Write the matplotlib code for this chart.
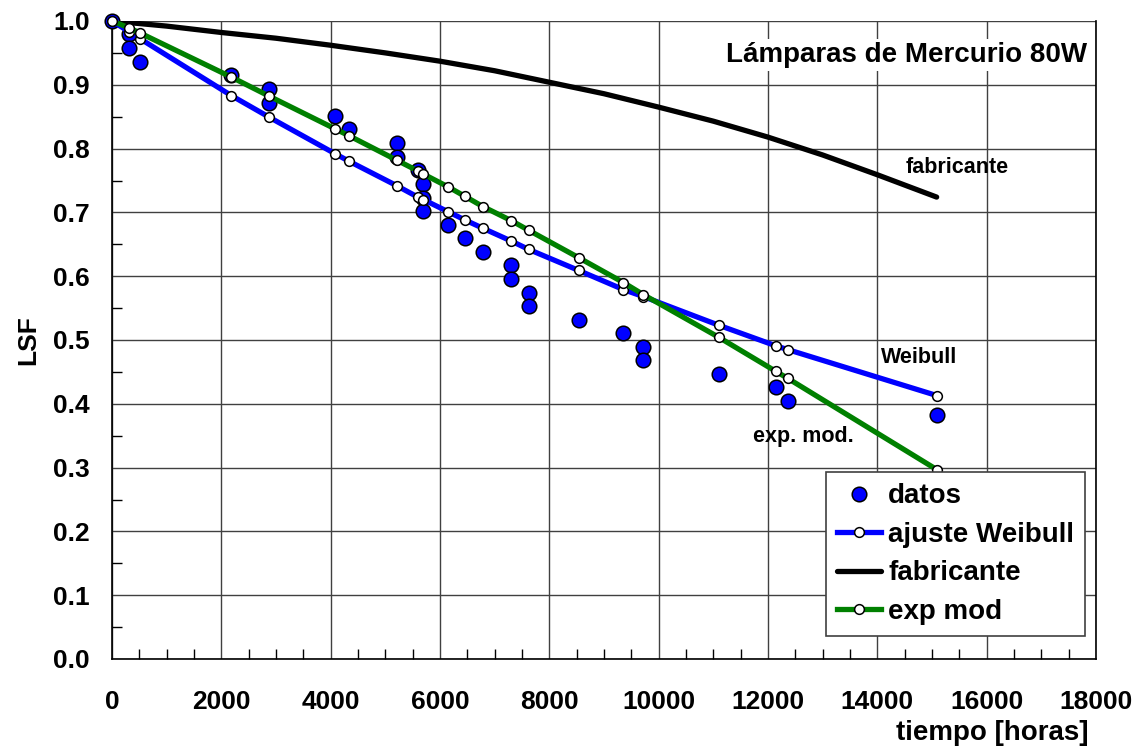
import matplotlib
matplotlib.use("Agg")
import matplotlib.pyplot as plt
from matplotlib.ticker import MultipleLocator

plt.rcParams['font.family'] = ['Liberation Sans', 'DejaVu Sans']
plt.rcParams['font.weight'] = 'bold'

# measured survival fraction of the lamps
t_datos = [0, 317, 317, 518, 2185, 2880, 2880, 4080, 4340, 5206, 5206, 5594,
           5698, 5698, 5698, 6149, 6460, 6788, 7306, 7306, 7622, 7622, 8538,
           9356, 9722, 9722, 11105, 12140, 12360, 15085]
lsf_datos = [1.0, 0.979, 0.957, 0.936, 0.915, 0.894, 0.872, 0.851, 0.830,
             0.809, 0.787, 0.766, 0.745, 0.723, 0.702, 0.681, 0.660, 0.638,
             0.617, 0.596, 0.574, 0.553, 0.532, 0.511, 0.489, 0.468, 0.447,
             0.426, 0.404, 0.383]

# fitted curves evaluated at the failure times
t_ajuste = [0, 317, 518, 2185, 2880, 4080, 4340, 5206, 5594, 5698, 6149,
            6460, 6788, 7306, 7622, 8538, 9356, 9722, 11105, 12140, 12360, 15085]
lsf_weibull = [1.0, 0.983, 0.972, 0.883, 0.849, 0.792, 0.780, 0.742, 0.724,
               0.720, 0.701, 0.688, 0.675, 0.655, 0.642, 0.609, 0.579, 0.568,
               0.523, 0.491, 0.485, 0.413]
lsf_expmod = [1.0, 0.989, 0.981, 0.912, 0.882, 0.831, 0.820, 0.782, 0.765,
              0.760, 0.740, 0.725, 0.709, 0.687, 0.672, 0.629, 0.590, 0.571,
              0.504, 0.451, 0.440, 0.297]

# manufacturer curve
t_fab = [0, 1000, 2000, 3000, 4000, 5000, 6000, 7000, 8000, 9000, 10000,
         11000, 12000, 13000, 14000, 15085]
lsf_fab = [1.0, 0.992, 0.982, 0.973, 0.962, 0.950, 0.937, 0.922, 0.904,
           0.886, 0.865, 0.843, 0.818, 0.790, 0.759, 0.724]

fig = plt.figure(figsize=(11.43, 7.54), dpi=100)
ax = fig.add_axes([112 / 1143, 95 / 754, 984 / 1143, 638 / 754])

ax.plot(t_datos, lsf_datos, 'o', color='#0000ff', markeredgecolor='black',
        markersize=10.5, markeredgewidth=1.1, label='datos', zorder=3,
        clip_on=False)
ax.plot(t_ajuste, lsf_weibull, '-o', color='#0000ff', lw=3.8,
        markerfacecolor='white', markeredgecolor='black', markersize=7,
        markeredgewidth=1.1, label='ajuste Weibull', zorder=4)
ax.plot(t_fab, lsf_fab, '-', color='black', lw=3.8, solid_capstyle='round',
        label='fabricante', zorder=4)
ax.plot(t_ajuste, lsf_expmod, '-o', color='#008000', lw=3.8,
        markerfacecolor='white', markeredgecolor='black', markersize=7,
        markeredgewidth=1.1, label='exp mod', zorder=4, clip_on=False)

ax.set_xlim(0, 18000)
ax.set_ylim(0, 1.0)
ax.xaxis.set_major_locator(MultipleLocator(2000))
ax.xaxis.set_minor_locator(MultipleLocator(500))
ax.yaxis.set_major_locator(MultipleLocator(0.1))
ax.yaxis.set_minor_locator(MultipleLocator(0.05))
ax.yaxis.set_major_formatter(matplotlib.ticker.FormatStrFormatter('%.1f'))
ax.grid(True, which='major', color='#404040', lw=1.0)
ax.tick_params(which='major', length=0, labelsize=19)
ax.tick_params(axis='x', which='major', pad=22)
ax.tick_params(axis='y', which='major', pad=16)
ax.tick_params(which='minor', direction='in', length=7, width=1, color='black')
for s in ax.spines.values():
    s.set_linewidth(1.2)
ax.spines['top'].set_visible(False)
ax.set_axisbelow(True)

ax.text(17830, 0.947, 'Lámparas de Mercurio 80W', ha='right', va='center',
        fontsize=20, fontweight='bold',
        bbox=dict(facecolor='white', edgecolor='none', pad=2))
ax.text(14520, 0.771, 'fabricante', ha='left', va='center', fontsize=15.5,
        fontweight='bold')
ax.text(14060, 0.472, 'Weibull', ha='left', va='center', fontsize=15.5,
        fontweight='bold')
ax.text(11720, 0.348, 'exp. mod.', ha='left', va='center', fontsize=15.5,
        fontweight='bold')

leg = ax.legend(loc='lower right', bbox_to_anchor=(0.989, 0.036),
                borderaxespad=0, handlelength=1.6,
                handletextpad=0.25, labelspacing=0.45, borderpad=0.4,
                fancybox=False, framealpha=1, edgecolor='#404040',
                prop={'weight': 'bold', 'size': 20})
leg.get_frame().set_linewidth(1.2)

fig.text(1088 / 1143, 1 - 733 / 754, 'tiempo [horas]', ha='right',
         va='center', fontsize=20, fontweight='bold')
fig.text(28 / 1143, 1 - 340 / 754, 'LSF', rotation=90, ha='center',
         va='center', fontsize=19, fontweight='bold')

fig.savefig('out.png', dpi=100)
